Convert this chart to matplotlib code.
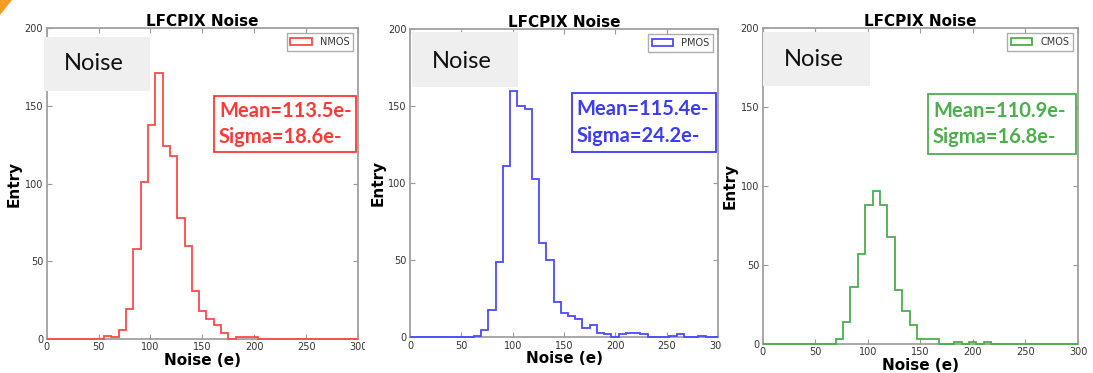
import matplotlib
matplotlib.use("Agg")
import matplotlib.pyplot as plt
from matplotlib.patches import Rectangle, Polygon

# common bin edges (e)
edges = [0, 55.2, 62.3, 69.3, 76.4, 83.4, 90.5, 97.5, 104.6, 111.6, 118.7,
         125.7, 132.8, 139.8, 146.9, 153.9, 161.0, 168.0, 175.1, 182.1, 189.2,
         196.2, 203.3, 210.3, 217.4, 224.4, 231.5, 238.5, 245.6, 252.6, 259.7,
         266.7, 273.8, 280.8, 287.9, 300]

nmos = [0, 2, 1, 6, 19, 58, 101, 138, 171, 124, 118, 78, 60, 31, 18, 13, 9, 4,
        0, 1, 1, 1, 0, 0, 0, 0, 0, 0, 0, 0, 0, 0, 0, 0, 0]
pmos = [0, 0, 1, 5, 18, 49, 111, 160, 150, 148, 103, 61, 50, 23, 16, 14, 12, 6,
        8, 3, 2, 0, 2, 3, 3, 2, 0, 0, 0, 1, 2, 0, 0, 1, 0]
cmos = [0, 0, 0, 3, 14, 36, 57, 88, 97, 88, 68, 34, 21, 12, 3, 3, 3, 0,
        0, 1, 0, 1, 0, 1, 0, 0, 0, 0, 0, 0, 0, 0, 0, 0, 0]

labels = ["NMOS", "PMOS", "CMOS"]
series = [nmos, pmos, cmos]
stats = ["Mean=113.5e-\nSigma=18.6e-",
         "Mean=115.4e-\nSigma=24.2e-",
         "Mean=110.9e-\nSigma=16.8e-"]
line_colors = ["#ff4a4a", "#4a4aff", "#4caf4c"]
text_colors = ["#ff3838", "#3c3cf2", "#4cae4c"]

W, H = 1093, 373
fig = plt.figure(figsize=(W / 100, H / 100), dpi=100)

def px(x0, y0, x1, y1):
    # pixel box -> figure fraction [left, bottom, width, height]
    return [x0 / W, 1 - y1 / H, (x1 - x0) / W, (y1 - y0) / H]

def box(x0, y0, x1, y1, **kw):
    b = px(x0, y0, x1, y1)
    fig.add_artist(Rectangle(b[:2], b[2], b[3], transform=fig.transFigure, **kw))

axes_px = [(46.7, 28.3, 358, 339), (410, 29.3, 718, 337.3), (762.7, 28.3, 1078, 344)]
stat_px = [(214, 96, 356, 152), (571.7, 93, 715.7, 152), (928, 94, 1076, 154)]
stat_txt = [(219, 124), (576.5, 122.5), (933, 124)]
gray_px = [(44, 37, 150, 91), (411.7, 32, 517.7, 87), (763, 32, 870, 86)]
noise_txt = [(64, 64), (432, 61), (784, 59)]

for i in range(3):
    ax = fig.add_axes(px(*axes_px[i]))
    ax.hist(edges[:-1], bins=edges, weights=series[i], histtype="step",
            color=line_colors[i], lw=1.3, label=labels[i], clip_on=False, zorder=3)
    ax.set_xlim(0, 300)
    ax.set_ylim(0, 200)
    ax.set_xticks([0, 50, 100, 150, 200, 250, 300])
    ax.set_yticks([0, 50, 100, 150, 200])
    ax.tick_params(direction="in", top=True, right=True, length=3.5, width=0.8,
                   color="#999999", labelsize=7, labelcolor="#333333", pad=2.5)
    for s in ax.spines.values():
        s.set_color("#a0a0a0")
        s.set_linewidth(1.3)
    ax.set_title("LFCPIX Noise", fontsize=11, fontweight="bold", pad=1.5)
    ax.set_xlabel("Noise (e)", fontsize=11, fontweight="bold")
    ax.set_ylabel("Entry", fontsize=11, fontweight="bold")
    ax.xaxis.set_label_coords(0.5, -0.045)
    ax.yaxis.set_label_coords(-0.079, 0.5)
    leg = ax.legend(loc="upper right", fontsize=7, fancybox=False,
                    handlelength=2.2, borderaxespad=0.5)
    leg.get_frame().set_edgecolor("#999999")
    leg.get_frame().set_linewidth(1.0)
    for t in leg.get_texts():
        t.set_color("#333333")

    # mean / sigma box
    box(*stat_px[i], fc="white", ec=text_colors[i], lw=1.3, zorder=10)
    fig.text(stat_txt[i][0] / W, 1 - stat_txt[i][1] / H, stats[i], fontsize=14.5,
             fontweight="bold", family="Lato", color=text_colors[i],
             ha="left", va="center", multialignment="left", linespacing=1.4,
             zorder=11)

    # grey "Noise" label box on top of the plot
    box(*gray_px[i], fc="#efefef", ec="none", zorder=10)
    fig.text(noise_txt[i][0] / W, 1 - noise_txt[i][1] / H, "Noise", fontsize=17,
             family="Lato", ha="left", va="center", color="#111111", zorder=11)

# cropped edges of the first two pictures
box(365, 339, 370, 356, fc="white", ec="none", zorder=10)
box(722, 336, 728, 354, fc="white", ec="none", zorder=10)

# orange slide corner
fig.add_artist(Polygon([(0, 1), (12 / W, 1), (0, 1 - 15 / H)], closed=True,
                       transform=fig.transFigure, fc="#f39c1f", ec="none", zorder=10))

fig.savefig("out.png", dpi=100)
